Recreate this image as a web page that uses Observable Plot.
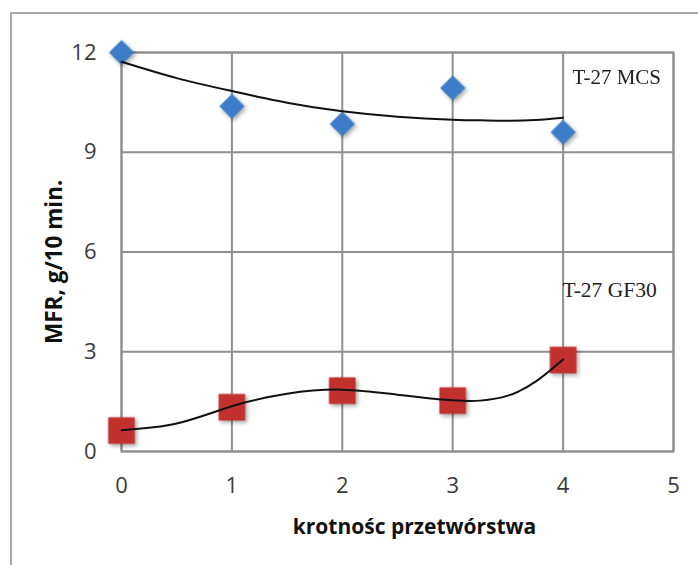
<!DOCTYPE html>
<html>
<head>
<meta charset="utf-8">
<script src="https://cdn.jsdelivr.net/npm/d3@7"></script>
<script src="https://cdn.jsdelivr.net/npm/@observablehq/plot@0.6"></script>
<style>
  html, body { margin: 0; padding: 0; background: #fff; overflow: hidden; }
  #wrap { position: relative; width: 698px; height: 565px; }
  #chart { position: absolute; left: 0; top: 0; }
  #border { position: absolute; left: 10px; top: 12px; width: 900px; height: 800px;
            border-left: 2px solid #a8a8a8; border-top: 2px solid #a8a8a8; pointer-events: none; }
  g[aria-label="dot"] { filter: drop-shadow(2px 2px 2px rgba(0,0,0,0.35)); }
</style>
</head>
<body>
<div id="wrap"><div id="chart"></div><div id="border"></div></div>
<script>
// Measured points (krotność przetwórstwa vs MFR)
const cycles = [0, 1, 2, 3, 4];
const mcsValues = [12.0, 10.38, 9.85, 10.93, 9.60];   // T-27 MCS
const gf30Values = [0.63, 1.33, 1.83, 1.53, 2.75];    // T-27 GF30

// Trend lines
const trendX = [0, 0.5, 1, 1.5, 2, 2.5, 3, 3.25, 3.5, 3.75, 4];
const mcsTrend = [11.72, 11.23, 10.84, 10.49, 10.23, 10.07, 9.98, 9.96, 9.95, 9.97, 10.04];
const gf30Trend = [0.64, 0.84, 1.36, 1.74, 1.86, 1.71, 1.54, 1.53, 1.68, 2.1, 2.77];

const xTicks = [0, 1, 2, 3, 4, 5];
const yTicks = [0, 3, 6, 9, 12];
const seriesNames = ["T-27 MCS", "T-27 GF30"];
const xTitle = "krotnośc przetwórstwa";
const yTitle = "MFR, g/10 min.";

const mcsPts = cycles.map((c, i) => ({x: c, y: mcsValues[i]}));
const gfPts = cycles.map((c, i) => ({x: c, y: gf30Values[i]}));
const mcsLine = trendX.map((c, i) => ({x: c, y: mcsTrend[i]}));
const gfLine = trendX.map((c, i) => ({x: c, y: gf30Trend[i]}));

const gridColor = "#8f8f8f";

const chart = Plot.plot({
  width: 698,
  height: 565,
  marginLeft: 121,
  marginRight: 25,
  marginTop: 52,
  marginBottom: 114,
  style: {background: "transparent", fontFamily: "'Open Sans', sans-serif", overflow: "visible"},
  x: {domain: [0, 5]},
  y: {domain: [0, 12]},
  marks: [
    Plot.gridX(xTicks, {stroke: gridColor, strokeOpacity: 1, strokeWidth: 2}),
    Plot.gridY(yTicks, {stroke: gridColor, strokeOpacity: 1, strokeWidth: 2}),
    Plot.frame({stroke: gridColor, strokeWidth: 2}),
    Plot.axisX(xTicks, {tickSize: 0, tickPadding: 26, fontSize: 22, fill: "#3a3a3a", label: null}),
    Plot.axisY(yTicks, {tickSize: 0, tickPadding: 25, fontSize: 22, fill: "#3a3a3a", label: null}),
    Plot.dot(mcsPts, {x: "x", y: "y", symbol: "diamond2", r: 11.3, fill: "#3d7cc9", stroke: "none"}),
    Plot.dot(gfPts, {x: "x", y: "y", symbol: "square", r: 15, fill: "#c3312f", stroke: "none"}),
    Plot.line(mcsLine, {x: "x", y: "y", curve: "natural", stroke: "#111", strokeWidth: 2}),
    Plot.line(gfLine, {x: "x", y: "y", curve: "natural", stroke: "#111", strokeWidth: 2}),
    Plot.text([seriesNames[0]], {x: 4.085, y: 11.25, text: d => d, textAnchor: "start",
      fontFamily: "'Liberation Serif', serif", fontSize: 21, fill: "#222"}),
    Plot.text([seriesNames[1]], {x: 3.995, y: 4.84, text: d => d, textAnchor: "start",
      fontFamily: "'Liberation Serif', serif", fontSize: 21.5, fill: "#222"}),
    Plot.text([xTitle], {frameAnchor: "bottom", dx: 17, dy: 76, text: d => d, lineAnchor: "middle",
      fontWeight: "bold", fontSize: 21, fill: "#111"}),
    Plot.text([yTitle], {frameAnchor: "left", dx: -67, dy: 92, rotate: -90, text: d => d, lineAnchor: "middle",
      fontWeight: "bold", fontSize: 22.5, fill: "#111"})
  ]
});
document.getElementById("chart").appendChild(chart);
</script>
</body>
</html>
